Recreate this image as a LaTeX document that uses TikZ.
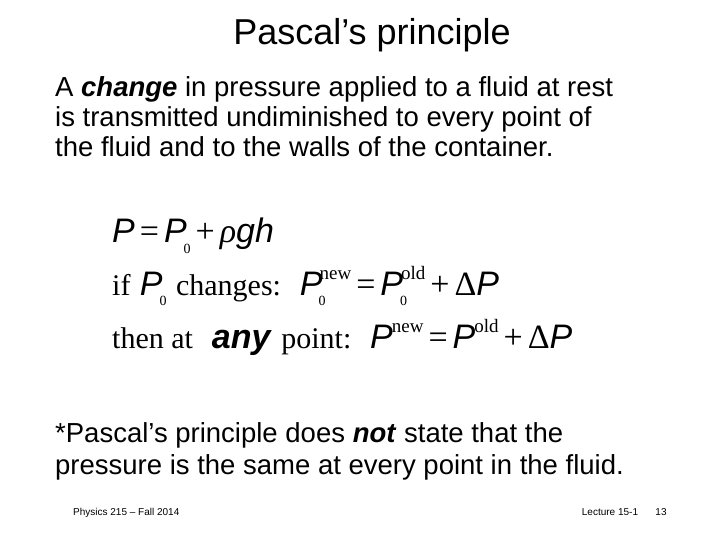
\documentclass[tikz,border=0pt]{standalone}
\usepackage{fontspec}
\setmainfont{Liberation Sans}
\newfontfamily\ser{Liberation Serif}
\newcommand{\Pit}{\textit{P}}
\newcommand{\sw}[1]{{\ser\fontsize{30}{30}\selectfont #1}}
\newcommand{\op}[1]{\kern5pt{\ser #1}\kern5pt}
\newcommand{\subz}{\raisebox{-0.3em}{\ser\fontsize{14}{14}\selectfont 0}}
\newcommand{\supx}[1]{\raisebox{0.45em}{\ser\fontsize{19}{19}\selectfont #1}}
\begin{document}
\begin{tikzpicture}[x=1pt,y=-1pt,
  body/.style={anchor=base west,inner sep=0pt,font=\fontsize{27.5}{30}\selectfont,align=left},
  eq/.style={anchor=base west,inner sep=0pt,font=\fontsize{34}{40}\selectfont},
  foot/.style={anchor=base,inner sep=0pt,font=\fontsize{10}{12}\selectfont}]
\useasboundingbox[fill=white] (0,0) rectangle (720,540);
\node[anchor=base,inner sep=0pt,font=\fontsize{36}{40}\selectfont] (title) at (372,45) {Pascal’s principle};
\node[body] (l1) at (55,97) {A \textbf{\textit{change}} in pressure applied to a fluid at rest};
\node[body] (l2) at (55,127) {is transmitted undiminished to every point of};
\node[body] (l3) at (55,157) {the fluid and to the walls of the container.};
\node[eq] (e1) at (112,243) {\Pit\op{=}\Pit\kern-3pt\subz\op{+}{\ser\itshape ρ}\textit{gh}};
\node[eq] (e2) at (112,295) {\sw{if} \Pit\kern-3pt\subz\ \sw{changes:}\ \ \Pit\kern-4pt\subz\kern-6pt\supx{new}\op{=}\Pit\kern-3pt\subz\kern-6pt\supx{old}\op{+}{\ser Δ}\Pit};
\node[eq] (e3) at (112,348) {\sw{then at}\ \ \textbf{\textit{any}} \sw{point:}\ \ \Pit\kern-1pt\supx{new}\op{=}\Pit\kern-1pt\supx{old}\op{+}{\ser Δ}\Pit};
\node[body] (b1) at (55,442) {*Pascal’s principle does \textbf{\textit{not}} state that the};
\node[body] (b2) at (55,474) {pressure is the same at every point in the fluid.};
\node[foot,anchor=base west] (f1) at (73,515) {Physics 215 -- Fall 2014};
\node[foot] (f2) at (610,515) {Lecture 15-1};
\node[foot] (f3) at (661,515) {13};
\end{tikzpicture}
\end{document}
